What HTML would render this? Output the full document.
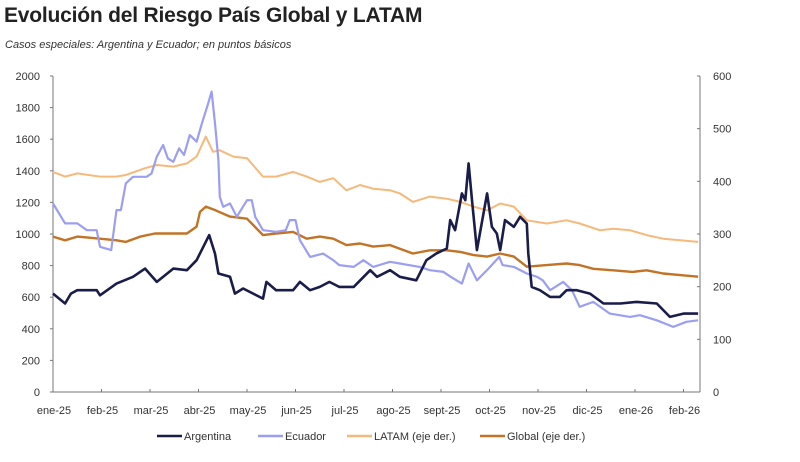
<!DOCTYPE html>
<html><head><meta charset="utf-8"><style>
body{margin:0;background:#fff;width:800px;height:462px;overflow:hidden;font-family:"Liberation Sans",sans-serif}
#title{position:absolute;left:4px;top:4px;font-size:21px;font-weight:bold;color:#222;letter-spacing:-0.2px}
#sub{position:absolute;left:5px;top:39px;font-size:11px;font-style:italic;color:#333}
svg{position:absolute;left:0;top:0}
text{font-family:"Liberation Sans",sans-serif;font-size:11px;fill:#333}
</style></head><body>
<div id="title">Evolución del Riesgo País Global y LATAM</div>
<div id="sub">Casos especiales: Argentina y Ecuador; en puntos básicos</div>
<svg id="chart" width="800" height="462"></svg>
<script>
const monthLabels=["ene-25","feb-25","mar-25","abr-25","may-25","jun-25","jul-25","ago-25","sept-25","oct-25","nov-25","dic-25","ene-26","feb-26"];
const leftTicks=[0,200,400,600,800,1000,1200,1400,1600,1800,2000];
const rightTicks=[0,100,200,300,400,500,600];
const argT=[0,0.25,0.37,0.5,0.9,0.97,1.31,1.65,1.9,2.14,2.48,2.76,2.96,3.1,3.22,3.34,3.41,3.65,3.75,3.92,4.33,4.4,4.6,4.95,5.09,5.3,5.5,5.7,5.9,6.2,6.54,6.68,6.95,7.15,7.49,7.7,7.9,8.12,8.19,8.29,8.43,8.5,8.57,8.64,8.74,8.95,9.05,9.15,9.22,9.32,9.5,9.63,9.77,9.8,9.87,10.04,10.25,10.45,10.59,10.8,11.07,11.35,11.7,12.04,12.45,12.72,13.0,13.3];
const argV=[623,560,623,644,644,612,686,729,781,697,781,771,834,919,993,876,750,729,623,655,591,697,644,644,697,644,665,697,665,665,771,729,771,729,707,834,876,908,1088,1024,1257,1214,1447,1214,898,1257,1045,1003,898,1088,1045,1109,1066,876,665,644,602,602,644,644,623,560,560,570,560,475,496,496];
const ecuT=[0,0.25,0.5,0.7,0.9,0.97,1.2,1.31,1.4,1.5,1.65,1.93,2.03,2.14,2.27,2.37,2.48,2.6,2.7,2.82,2.96,3.07,3.2,3.27,3.34,3.41,3.44,3.51,3.65,3.79,4.0,4.1,4.17,4.33,4.6,4.8,4.88,5.0,5.09,5.3,5.57,5.78,5.9,6.2,6.4,6.6,6.95,7.15,7.56,7.77,8.05,8.2,8.43,8.57,8.74,8.98,9.2,9.27,9.5,9.77,9.98,10.1,10.25,10.52,10.7,10.86,11.14,11.48,11.9,12.1,12.45,12.79,13.06,13.3];
const ecuV=[1193,1067,1067,1024,1024,919,898,1151,1151,1320,1362,1362,1383,1489,1563,1478,1457,1542,1500,1626,1584,1700,1827,1901,1700,1468,1235,1172,1193,1109,1214,1214,1109,1024,1014,1024,1088,1088,961,855,876,834,803,792,834,792,824,813,792,771,760,729,686,813,707,781,855,803,792,750,729,707,644,697,644,539,570,496,475,486,454,412,444,454];
const latT=[0,0.25,0.5,0.97,1.31,1.5,1.9,2.14,2.48,2.76,2.96,3.15,3.3,3.44,3.72,4.0,4.33,4.6,4.95,5.23,5.5,5.78,6.05,6.33,6.6,6.95,7.15,7.42,7.77,8.12,8.4,8.67,8.95,9.22,9.5,9.77,10.18,10.59,10.86,11.28,11.55,11.9,12.24,12.58,12.93,13.3];
const latV=[418,409,415,409,409,412,425,431,428,434,447,485,456,459,447,444,409,409,418,409,399,406,383,393,386,383,377,361,371,367,361,352,345,358,352,326,320,326,320,307,310,307,298,291,288,285];
const gloT=[0,0.25,0.5,0.97,1.31,1.5,1.8,2.1,2.48,2.76,2.96,3.03,3.15,3.35,3.65,4.0,4.33,4.6,4.95,5.23,5.5,5.78,6.05,6.33,6.6,6.95,7.15,7.42,7.77,8.12,8.4,8.67,8.95,9.22,9.5,9.77,10.18,10.59,10.86,11.14,11.55,11.95,12.24,12.58,12.93,13.3];
const gloV=[295,288,295,291,288,285,295,301,301,301,314,342,352,345,333,329,298,301,304,291,295,291,279,282,276,279,272,263,269,269,266,260,257,263,257,238,241,244,241,234,231,228,231,225,222,219];

const svg=document.getElementById('chart');
const NS='http://www.w3.org/2000/svg';
const X0=53,MW=48.5,Y0=392,Y1=76,XR=700;
const xs=t=>X0+t*MW;
const yl=v=>Y0-(v/2000)*(Y0-Y1);
const yr=v=>Y0-(v/600)*(Y0-Y1);
function mk(tag,attrs){const e=document.createElementNS(NS,tag);for(const k in attrs)e.setAttribute(k,attrs[k]);svg.appendChild(e);return e;}
let e;
e=mk('line',{x1:X0,y1:Y1,x2:X0,y2:Y0,stroke:'#777','stroke-width':1});


e=mk('line',{x1:XR,y1:Y1,x2:XR,y2:Y0,stroke:'#777','stroke-width':1});


e=mk('line',{x1:X0,y1:Y0,x2:XR,y2:Y0,stroke:'#777','stroke-width':1});


leftTicks.forEach(v=>{
  mk('line',{x1:X0-3,x2:X0,y1:yl(v),y2:yl(v),stroke:'#777'});
  e=mk('text',{x:40,y:yl(v)+4,'text-anchor':'end'});e.textContent=v;
  
  
});
rightTicks.forEach(v=>{
  mk('line',{x1:XR-3,x2:XR,y1:yr(v),y2:yr(v),stroke:'#777'});
  e=mk('text',{x:713,y:yr(v)+4});e.textContent=v;
  
  
});
monthLabels.forEach((m,i)=>{
  mk('line',{x1:xs(i),x2:xs(i),y1:Y0,y2:Y0-3,stroke:'#777'});
  e=mk('text',{x:xs(i)+1,y:414,'text-anchor':'middle'});e.textContent=m;
  
  
});
function series(T,V,yf,color,w,name){
  const d=T.map((t,i)=>(i?'L':'M')+xs(t).toFixed(1)+','+yf(V[i]).toFixed(1)).join('');
  const p=mk('path',{d:d,fill:'none',stroke:color,'stroke-width':w,'stroke-linejoin':'round'});
  
  
}
series(latT,latV,yr,'#f6b97c',2,'latam-line');
series(gloT,gloV,yr,'#c27325',2.4,'global-line');
series(ecuT,ecuV,yl,'#9c9ef2',2.2,'ecuador-line');
series(argT,argV,yl,'#1a1c4a',2.6,'argentina-line');
const legNames=["Argentina","Ecuador","LATAM (eje der.)","Global (eje der.)"];
const legColors=['#1a1c4a','#9c9ef2','#f6b97c','#c27325'];
const legX=[157,258,347,480];
legNames.forEach((n,i)=>{
  const g=document.createElementNS(NS,'g');svg.appendChild(g);
  
  
  const l=document.createElementNS(NS,'line');
  [['x1',legX[i]],['x2',legX[i]+25],['y1',436],['y2',436],['stroke',legColors[i]],['stroke-width',2.5]].forEach(a=>l.setAttribute(a[0],a[1]));
  g.appendChild(l);
  const t=document.createElementNS(NS,'text');
  t.setAttribute('x',legX[i]+27);t.setAttribute('y',440);t.textContent=n;
  g.appendChild(t);
});
</script>
</body></html>
